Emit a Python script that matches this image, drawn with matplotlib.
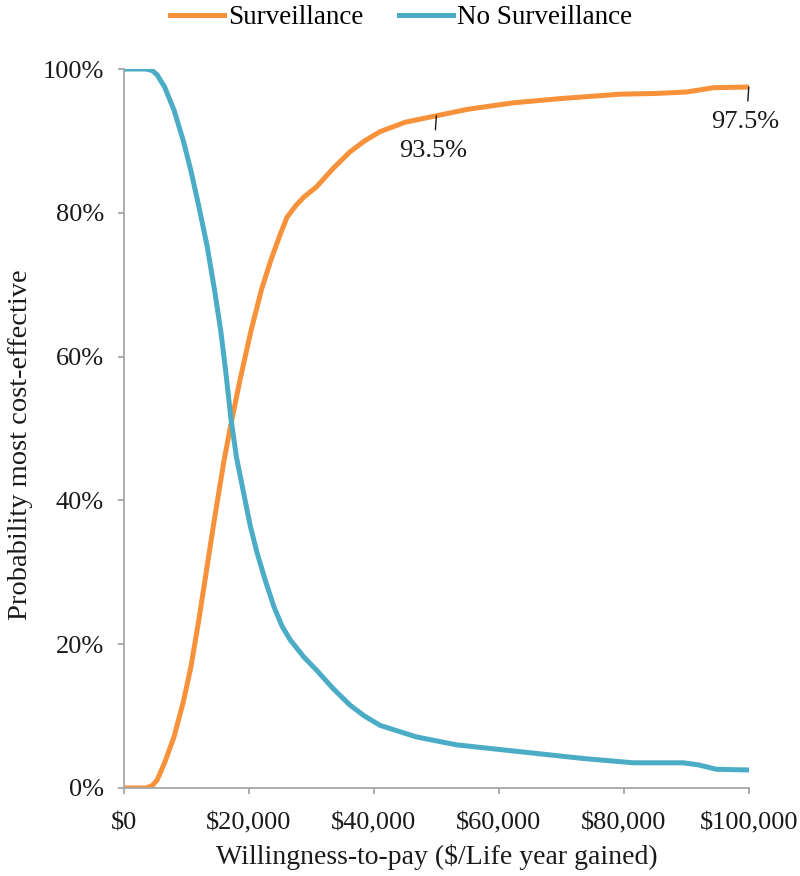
import numpy as np
import matplotlib
matplotlib.use("Agg")
import matplotlib.pyplot as plt
from matplotlib.ticker import FuncFormatter

# -------------------------------
# DATA
# -------------------------------
wtp_s = [0, 3500, 4500, 5300, 6500, 8000, 9500, 10700, 12000, 12800, 14400,
         16000, 17100, 18500, 20300, 22000, 23500, 25000, 26100, 27500,
         28800, 30800, 33500, 36200, 38500, 41000, 45000, 50000, 55000,
         62300, 70000, 79400, 85000, 90000, 92200, 94300, 100000]
surveillance = [0.0, 0.0, 0.3, 1.1, 3.5, 7.1, 12.0, 16.8, 23.5, 28.0, 37.0,
                45.5, 50.5, 56.5, 63.5, 69.3, 73.4, 77.0, 79.4, 81.0,
                82.2, 83.6, 86.2, 88.5, 90.0, 91.3, 92.6, 93.5, 94.4,
                95.3, 95.9, 96.5, 96.6, 96.8, 97.1, 97.4, 97.5]

wtp_n = [0, 3500, 4500, 5300, 6500, 8000, 9500, 10700, 12000, 13300, 14500,
         15500, 16300, 17100, 18000, 19200, 20200, 21300, 22600, 24000,
         25300, 26600, 28800, 30800, 33500, 36200, 38500, 41000, 46800,
         53200, 62800, 73500, 81500, 89500, 92000, 94800, 100000]
no_surveillance = [100.0, 100.0, 99.8, 99.2, 97.5, 94.3, 90.0, 85.9, 80.8,
                   75.4, 69.2, 63.5, 57.8, 51.5, 46.0, 40.8, 36.5, 32.7, 28.9,
                   25.2, 22.5, 20.6, 18.2, 16.4, 13.8, 11.5, 10.0, 8.7, 7.1,
                   6.0, 5.1, 4.1, 3.5, 3.5, 3.2, 2.6, 2.5]

x_ticks = [0, 20000, 40000, 60000, 80000, 100000]
y_ticks = [0, 20, 40, 60, 80, 100]

orange = "#F7923A"
blue = "#4BACC6"
gray = "#A6A6A6"
txt = "#1A1A1A"

# -------------------------------
# PLOT
# -------------------------------
plt.rcParams["font.family"] = ["Liberation Serif", "DejaVu Serif"]

fig = plt.figure(figsize=(8, 8.76), dpi=100)
ax = fig.add_axes([0.155, 0.1005, 0.781, 0.8207])

ax.plot(np.array(wtp_s), np.array(surveillance) / 100, color=orange, lw=3.6,
        label="Surveillance", solid_joinstyle="round")
ax.plot(np.array(wtp_n), np.array(no_surveillance) / 100, color=blue, lw=3.6,
        label="No Surveillance", solid_joinstyle="round")

ax.set_xlim(0, 100000)
ax.set_ylim(0, 1)
ax.set_xticks(x_ticks)
ax.set_yticks([v / 100 for v in y_ticks])
ax.xaxis.set_major_formatter(FuncFormatter(lambda v, p: "${:,.0f}".format(v)))
ax.yaxis.set_major_formatter(FuncFormatter(lambda v, p: "{:.0f}%".format(v * 100)))

for side in ["top", "right"]:
    ax.spines[side].set_visible(False)
for side in ["left", "bottom"]:
    ax.spines[side].set_color(gray)
    ax.spines[side].set_linewidth(1.3)
ax.tick_params(axis="both", colors=gray, labelcolor=txt,
               labelsize=19, length=4.5, width=1.3, direction="out")
ax.tick_params(axis="y", pad=10)
ax.tick_params(axis="x", pad=13)

ax.set_xlabel("Willingness-to-pay ($/Life year gained)", fontsize=20,
              color=txt, labelpad=7)
ax.set_ylabel("Probability most cost-effective", fontsize=20.5, color=txt)
ax.yaxis.set_label_coords(-0.146, 0.478)

# annotations: short leader line below the curve, label under it
for xv, yv, lbl, dx in [(50000, 0.935, "93.5%", -3), (100000, 0.975, "97.5%", -4)]:
    ax.annotate("", xy=(xv, yv), xytext=(-1, -14), textcoords="offset pixels",
                arrowprops=dict(arrowstyle="-", color=txt, lw=1,
                                shrinkA=0, shrinkB=0))
    ax.annotate(lbl, xy=(xv, yv), xytext=(dx, -35), textcoords="offset pixels",
                fontsize=19, color=txt, ha="center", va="center")

fig.legend(loc="upper center", bbox_to_anchor=(0.501, 1.022), ncol=2,
           frameon=False, fontsize=19.5, handlelength=2.0, handletextpad=0.15,
           columnspacing=1.3)

fig.savefig("out.png", dpi=100)
plt.close(fig)
